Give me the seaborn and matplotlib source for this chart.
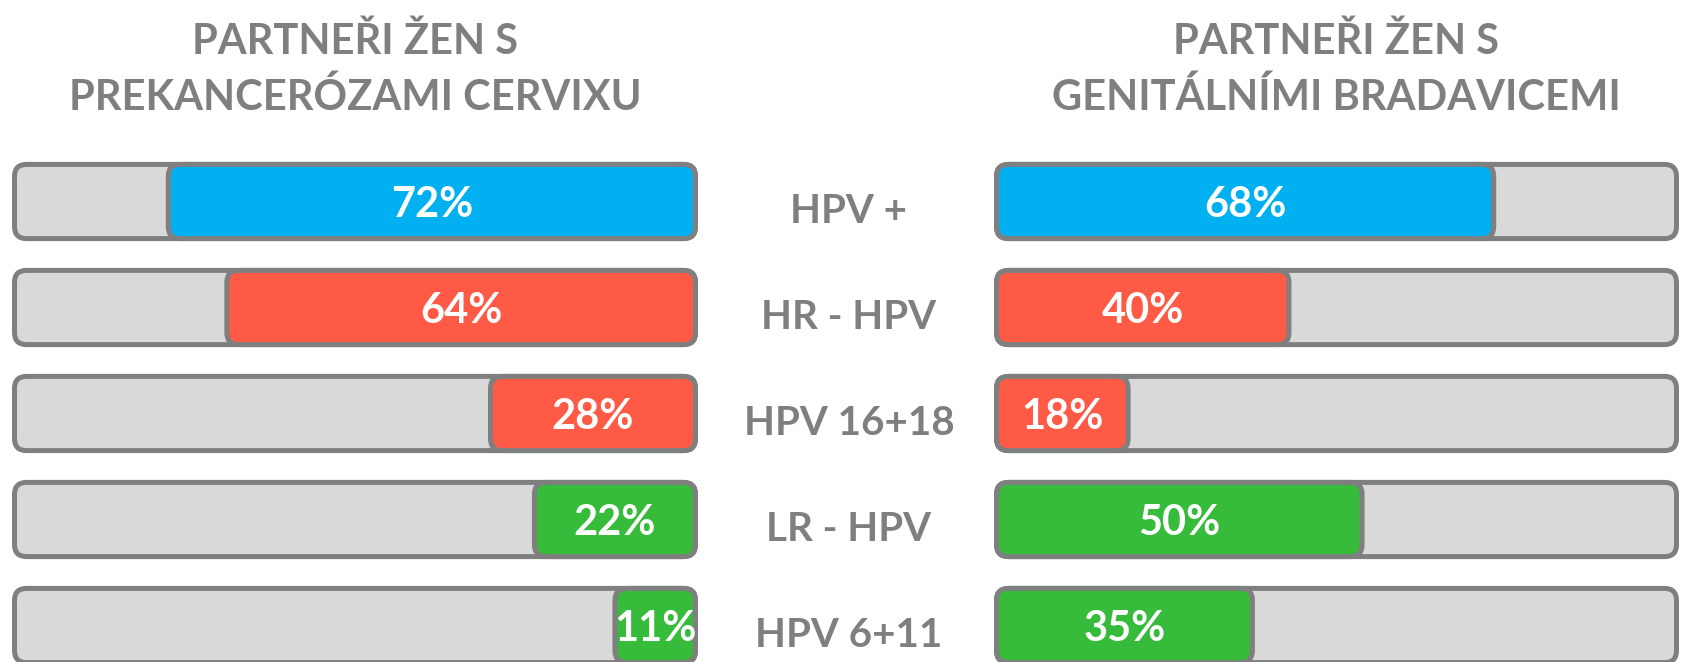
import numpy as np
import pandas as pd
import seaborn as sns
import matplotlib.pyplot as plt
from matplotlib.patches import FancyBboxPatch
from matplotlib.transforms import blended_transform_factory

# data
rows = ["HPV +", "HR - HPV", "HPV 16+18", "LR - HPV", "HPV 6+11"]
cervix = [72, 64, 28, 22, 11]
warts = [68, 40, 18, 50, 35]
row_colors = ["#00b0f0", "#ff5a45", "#ff5a45", "#36bb3a", "#36bb3a"]
title_left = ["PARTNEŘI ŽEN S", "PREKANCERÓZAMI CERVIXU"]
title_right = ["PARTNEŘI ŽEN S", "GENITÁLNÍMI BRADAVICEMI"]

SCALE_MAX = 93          # the grey track is drawn a bit shorter than 100 in the original
TRACK = "#d9d9d9"
EDGE = "#7f7f7f"
TEXT = "#7f7f7f"
BAR_H = 0.70
W, H = 1683, 662
PITCH = 106  # px per row

sns.set_theme(style="white")
plt.rcParams["font.family"] = ["Lato", "DejaVu Sans"]

df = pd.DataFrame({"row": rows, "cervix": cervix, "warts": warts})
df["track"] = SCALE_MAX

fig = plt.figure(figsize=(W / 100, H / 100), dpi=100)
fig.patch.set_facecolor("white")


def px_axes(x0, x1, y0, y1):
    return fig.add_axes([x0 / W, 1 - y1 / H, (x1 - x0) / W, (y1 - y0) / H])


def round_bars(ax, width_px):
    px_x = width_px / SCALE_MAX
    aspect = px_x / PITCH
    for p in list(ax.patches):
        x, y = p.get_xy()
        w, h = p.get_width(), p.get_height()
        fc = p.get_facecolor()
        p.remove()
        ax.add_patch(FancyBboxPatch(
            (x, y), w, h,
            boxstyle=f"round,pad=0,rounding_size={12 / px_x:.3f}",
            mutation_aspect=aspect, facecolor=fc, edgecolor=EDGE,
            linewidth=3.6, clip_on=False))


def panel(x0, x1, col, flip, title):
    ax = px_axes(x0, x1, 201.5 - PITCH / 2, 201.5 + PITCH * 4.5)
    sns.barplot(data=df, y="row", x="track", color=TRACK, width=BAR_H,
                saturation=1, orient="h", errorbar=None, ax=ax)
    sns.barplot(data=df, y="row", x=col, hue="row", palette=row_colors,
                width=BAR_H, saturation=1, orient="h", errorbar=None,
                legend=False, ax=ax)
    round_bars(ax, x1 - x0)
    ax.set_ylim(len(rows) - 0.5, -0.5)
    ax.set_xlim((SCALE_MAX, 0) if flip else (0, SCALE_MAX))
    for i, v in enumerate(df[col]):
        ax.text(v / 2, i + 0.145, f"{v}%", ha="center", va="baseline",
                color="white", fontsize=30, fontweight="bold")
    ax.axis("off")
    tr = blended_transform_factory(ax.transAxes, fig.transFigure)
    for line, base in zip(title, [53.5, 110.5]):
        ax.text(0.5, 1 - base / H, line, transform=tr, ha="center",
                va="baseline", color=TEXT, fontsize=30, fontweight="bold")
    return ax


ax_l = panel(14.5, 695.5, "cervix", True, title_left)
ax_r = panel(996.5, 1676.5, "warts", False, title_right)

tr = blended_transform_factory(fig.transFigure, ax_r.transData)
for i, lab in enumerate(rows):
    fig.text(849 / W, i + 0.2, lab, transform=tr, ha="center", va="baseline",
             color=TEXT, fontsize=29, fontweight="bold")

fig.savefig("out.png", dpi=100, facecolor="white")
